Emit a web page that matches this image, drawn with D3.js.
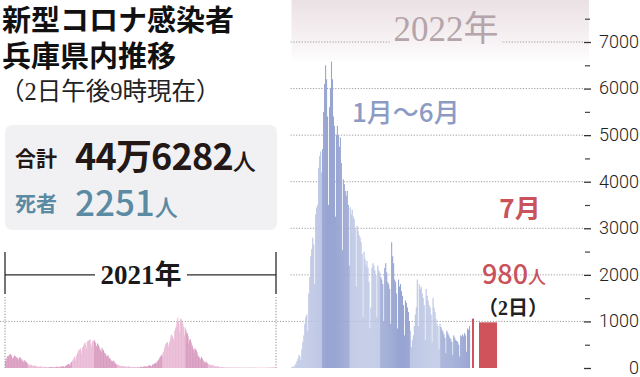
<!DOCTYPE html>
<html><head><meta charset="utf-8">
<script src="https://cdn.jsdelivr.net/npm/d3@7"></script>
<style>
html,body{margin:0;padding:0;background:#fff;}
svg{display:block;}
</style></head><body>
<svg id="chart" width="640" height="377"></svg>
<script>
// ---------------- DATA ----------------
const titleLines = ["新型コロナ感染者", "兵庫県内推移"];
const subtitle = "（2日午後9時現在）";
const totalLabel = "合計", totalValue = "44万6282", unitLabel = "人";
const deathLabel = "死者", deathValue = "2251";
const label2021 = "2021年", label2022 = "2022年";
const labelJanJun = "1月～6月", labelJuly = "7月";
const latestValueText = "980", latestDayText = "（2日）";

// daily new cases 2021, by month (Jan..Dec)
const cases2021 = [
  [150,190,230,260,250,290,280,300,270,220,190,230,270,260,240,230,210,170,200,230,220,200,180,150,120,170,160,140,130,110,90],
  [70,50,80,70,60,55,45,30,50,55,40,35,30,25,20,30,35,30,25,20,15,25,30,20,20,15,15,20],
  [15,20,25,20,15,20,15,10,20,25,30,25,20,25,15,30,35,30,40,35,30,20,45,55,60,80,90,70,60,110,130],
  [150,180,200,240,160,230,280,320,360,390,400,420,300,380,450,470,520,550,500,420,560,580,590,600,610,520,460,570,590,560],
  [600,550,480,470,530,500,460,420,380,350,430,400,380,330,320,300,250,260,280,240,210,200,170,150,140,160,150,120,100,90,70],
  [60,70,55,50,45,40,30,45,40,35,30,35,25,20,30,35,30,25,20,15,20,25,20,15,20,15,20,25,20,15],
  [20,25,30,20,15,30,35,40,35,30,25,45,55,60,50,45,40,70,80,90,100,110,90,130,150,170,200,230,250,280,260],
  [320,350,420,480,520,540,560,500,450,560,620,700,720,680,640,600,800,850,900,1000,1080,1000,780,950,1060,1040,1000,950,880,700,870],
  [820,760,740,680,520,600,620,560,500,460,400,330,420,400,380,340,280,250,230,200,190,240,210,170,150,120,110,140,120,100],
  [90,80,70,60,55,70,65,50,45,40,35,30,40,35,30,25,20,15,20,25,20,15,12,10,15,12,10,8,10,12,8],
  [6,8,5,4,7,8,6,5,4,6,7,5,6,4,3,5,6,7,5,4,3,5,6,7,6,5,4,6,8,7],
  [8,6,7,9,5,6,4,7,8,6,5,7,8,9,6,5,7,8,10,9,8,12,10,11,9,8,12,15,14,16,20]
];

// daily new cases 2022, by month (Jan..Jun)
const cases2022 = [
  [27,30,20,60,95,150,200,280,250,170,400,560,700,950,1100,1150,800,1600,1950,2400,2550,2800,2650,1800,3300,3450,3500,4300,4550,4650,4200],
  [4700,5500,6100,6500,6200,5400,3500,5600,6000,6580,6200,5400,5200,3250,5000,5200,5000,4750,4950,4400,2530,4050,3950,3800,3700,3800,3500,2200],
  [3450,3300,3400,3250,3200,3000,1750,3050,2950,2850,2800,2700,2450,1100,2500,2350,2200,2300,2150,1850,850,1300,2150,2250,2200,2100,2000,1100,2200,2100,2050],
  [1950,1900,1800,1000,2150,2250,2050,1850,1800,1700,950,2700,2400,2250,1900,1850,1600,850,1900,1750,1800,1650,1550,1350,700,1450,1400,1300,1200,1000],
  [800,450,600,700,900,1150,1300,1900,900,1800,1700,1750,1600,1500,1350,600,1700,1550,1450,1350,1300,1150,550,1500,1300,1200,1050,950,900,400,950],
  [880,820,780,720,650,320,800,750,700,650,620,560,280,700,650,600,580,560,500,250,700,680,720,680,750,700,350,850,820,900]
];

// July 2022: day 1, day 2
const julyDays = [1, 2];
const casesJuly = [1060, 980];

const yTicks = [0, 1000, 2000, 3000, 4000, 5000, 6000, 7000];
const yMinorTicks = [500, 1500, 2500, 3500, 4500, 5500, 6500, 7500];

// ---------------- STYLE ----------------
const FONT_JP = "'Noto Sans CJK JP', sans-serif";
const FONT_SERIF = "'Liberation Serif', 'Noto Sans CJK JP', serif";
const FONT_NUM = "Roboto, 'Liberation Sans', sans-serif";
const C = {
  pinkDark: "#d89bbf", pinkLight: "#e9b9d5",
  blueLight: "#b9c3e3", blueDark: "#98a5d2",
  red: "#d0525b", redText: "#c9525b",
  grid: "#9c9c9c", box: "#f1f1f3",
  blueText: "#8c9bc4", deathText: "#5b8ba3", dark: "#231815", year22: "#b5a4aa"
};

// ---------------- SCALES ----------------
const svg = d3.select("#chart");
const y = d3.scaleLinear().domain([0, 7000]).range([368, 42]);
const x2021 = d3.scaleTime().domain([new Date(2021,0,1), new Date(2022,0,1)]).range([5, 276]);
const x2022 = d3.scaleTime().domain([new Date(2022,0,1), new Date(2022,6,1)]).range([291.5, 470]);
const xJuly = d3.scaleLinear().domain([1, 2]).range([472, 479]);
const julyWidths = [2, 18];
const axisX = 584;

// ---------------- BACKGROUND ----------------
const defs = svg.append("defs");
const grad = defs.append("linearGradient").attr("id","topband")
  .attr("gradientUnits","userSpaceOnUse").attr("x1",0).attr("y1",0).attr("x2",0).attr("y2",64);
grad.append("stop").attr("offset","0").attr("stop-color","#ebe1e4");
grad.append("stop").attr("offset","0.6").attr("stop-color","#f6f1f3");
grad.append("stop").attr("offset","1").attr("stop-color","#ffffff");
svg.append("rect").attr("x", x2022.range()[0]).attr("y", 0)
  .attr("width", axisX + 5 - x2022.range()[0]).attr("height", 64).attr("fill","url(#topband)");

// ---------------- GRIDLINES ----------------
const gridG = svg.append("g");
gridG.selectAll("line").data(yTicks.filter(d => d > 0)).join("line")
  .attr("x1", d => d === 1000 ? 0 : x2022.range()[0] - 1)
  .attr("x2", axisX)
  .attr("y1", d => y(d)).attr("y2", d => y(d))
  .attr("stroke", C.grid).attr("stroke-width", 1).attr("stroke-dasharray", "1.2,1.6");

// ---------------- TITLE ----------------
svg.append("text").attr("x", 2).attr("y", 31).attr("font-family", FONT_JP)
  .attr("font-size", 29).attr("font-weight", 700).attr("fill", "#111").text(titleLines[0]);
svg.append("text").attr("x", 2).attr("y", 67).attr("font-family", FONT_JP)
  .attr("font-size", 29).attr("font-weight", 700).attr("fill", "#111").text(titleLines[1]);
svg.append("text").attr("x", 0).attr("y", 100).attr("font-family", FONT_SERIF)
  .attr("font-size", 24.5).attr("fill", "#222").text(subtitle);

// ---------------- SUMMARY BOX ----------------
svg.append("rect").attr("x", 5).attr("y", 125).attr("width", 272).attr("height", 105)
  .attr("rx", 7).attr("fill", C.box);
svg.append("text").attr("x", 15).attr("y", 166).attr("font-family", FONT_JP)
  .attr("font-size", 21).attr("font-weight", 700).attr("fill", C.dark).text(totalLabel);
const tv = svg.append("text").attr("x", 75).attr("y", 170).attr("font-family", FONT_JP)
  .attr("fill", C.dark).attr("font-weight", 700);
tv.append("tspan").attr("font-size", 36).attr("letter-spacing", -0.8).text(totalValue);
tv.append("tspan").attr("font-size", 23).attr("font-weight", 500).text(unitLabel);
svg.append("text").attr("x", 15).attr("y", 211).attr("font-family", FONT_JP)
  .attr("font-size", 21).attr("font-weight", 700).attr("fill", C.deathText).text(deathLabel);
const dv = svg.append("text").attr("x", 75).attr("y", 216).attr("font-family", FONT_JP)
  .attr("fill", C.deathText).attr("font-weight", 500);
dv.append("tspan").attr("font-size", 35).text(deathValue);
dv.append("tspan").attr("font-size", 23).text(unitLabel);

// ---------------- 2021 BRACKET ----------------
const br = svg.append("g").attr("stroke", "#2a2a2a").attr("stroke-width", 1.3);
[x2021.range()[0], x2021.range()[1]].forEach(xx => {
  br.append("line").attr("x1", xx).attr("x2", xx).attr("y1", 252).attr("y2", 294);
  br.append("line").attr("x1", xx).attr("x2", xx).attr("y1", 297).attr("y2", y(0))
    .attr("stroke", "#888").attr("stroke-width", 1).attr("stroke-dasharray", "1.2,1.6");
});
const midY = y(2000);
br.append("line").attr("x1", x2021.range()[0]).attr("x2", 95).attr("y1", midY).attr("y2", midY);
br.append("line").attr("x1", 187).attr("x2", x2021.range()[1]).attr("y1", midY).attr("y2", midY);
svg.append("text").attr("x", (x2021.range()[0] + x2021.range()[1]) / 2 + 0.5).attr("y", midY + 9)
  .attr("text-anchor", "middle").attr("font-family", FONT_SERIF).attr("font-weight", 700)
  .attr("font-size", 27).attr("fill", "#1a1a1a").text(label2021);

// ---------------- BARS ----------------
function flatten(year, months, colors) {
  const out = [];
  months.forEach((arr, m) => {
    arr.forEach((v, i) => {
      const d0 = new Date(year, m, i + 1), d1 = new Date(year, m, i + 2);
      out.push({ d0, d1, v, color: colors[m % 2] });
    });
  });
  return out;
}
const bars2021 = flatten(2021, cases2021, [C.pinkDark, C.pinkLight]);
const bars2022 = flatten(2022, cases2022, [C.blueLight, C.blueDark]);

svg.append("g").selectAll("rect").data(bars2021).join("rect")
  .attr("x", d => x2021(d.d0)).attr("width", d => x2021(d.d1) - x2021(d.d0) + 0.25)
  .attr("y", d => y(d.v)).attr("height", d => y(0) - y(d.v)).attr("fill", d => d.color);

svg.append("g").selectAll("rect").data(bars2022).join("rect")
  .attr("x", d => x2022(d.d0)).attr("width", d => x2022(d.d1) - x2022(d.d0) + 0.1)
  .attr("y", d => y(d.v)).attr("height", d => y(0) - y(d.v)).attr("fill", d => d.color);

svg.append("g").selectAll("rect").data(casesJuly).join("rect")
  .attr("x", (d, i) => xJuly(julyDays[i])).attr("width", (d, i) => julyWidths[i])
  .attr("y", d => y(d)).attr("height", d => y(0) - y(d)).attr("fill", C.red);

// ---------------- AXIS ----------------
const axisG = svg.append("g").attr("transform", `translate(${axisX},0)`)
  .call(d3.axisRight(y).tickValues(yTicks).tickSize(7).tickFormat(d3.format("d")));
axisG.select(".domain").remove();
axisG.selectAll(".tick line").attr("stroke", "#333").attr("stroke-width", 1.3);
axisG.selectAll(".tick text").attr("x", 55).attr("text-anchor", "end").attr("dy", "0.3em")
  .attr("font-family", FONT_NUM).attr("font-weight", 300).attr("font-size", 18).attr("fill", "#222");
const minorG = svg.append("g").attr("transform", `translate(${axisX + 1},0)`)
  .call(d3.axisRight(y).tickValues(yMinorTicks).tickSize(5).tickFormat(""));
minorG.select(".domain").remove();
minorG.selectAll(".tick line").attr("stroke", "#444").attr("stroke-width", 1.2);

// ---------------- ANNOTATIONS ----------------
const t22 = svg.append("text").attr("x", 446).attr("y", 41).attr("text-anchor", "middle")
  .attr("font-family", FONT_SERIF).attr("font-size", 35).attr("fill", C.year22).text(label2022);
const bb = t22.node().getBBox();
svg.insert("rect", "text").attr("x", bb.x - 3).attr("y", y(7000) - 2).attr("width", bb.width + 6)
  .attr("height", 4).attr("fill", "url(#topband)");

svg.append("text").attr("x", 352).attr("y", 122).attr("font-family", FONT_JP)
  .attr("font-size", 26).attr("font-weight", 500).attr("fill", C.blueText).text(labelJanJun);

svg.append("text").attr("x", 520).attr("y", 218).attr("text-anchor", "middle").attr("font-family", FONT_JP)
  .attr("font-size", 26).attr("font-weight", 700).attr("fill", C.redText).text(labelJuly);

const lv = svg.append("text").attr("x", 514).attr("y", 284).attr("text-anchor", "middle")
  .attr("font-family", FONT_JP).attr("fill", C.redText).attr("font-weight", 500);
lv.append("tspan").attr("font-size", 27).text(latestValueText);
lv.append("tspan").attr("font-size", 18).text(unitLabel);
svg.append("text").attr("x", 513).attr("y", 315).attr("text-anchor", "middle")
  .attr("font-family", FONT_SERIF).attr("font-weight", 700).attr("font-size", 20).attr("fill", "#222").text(latestDayText);
</script>
</body></html>
